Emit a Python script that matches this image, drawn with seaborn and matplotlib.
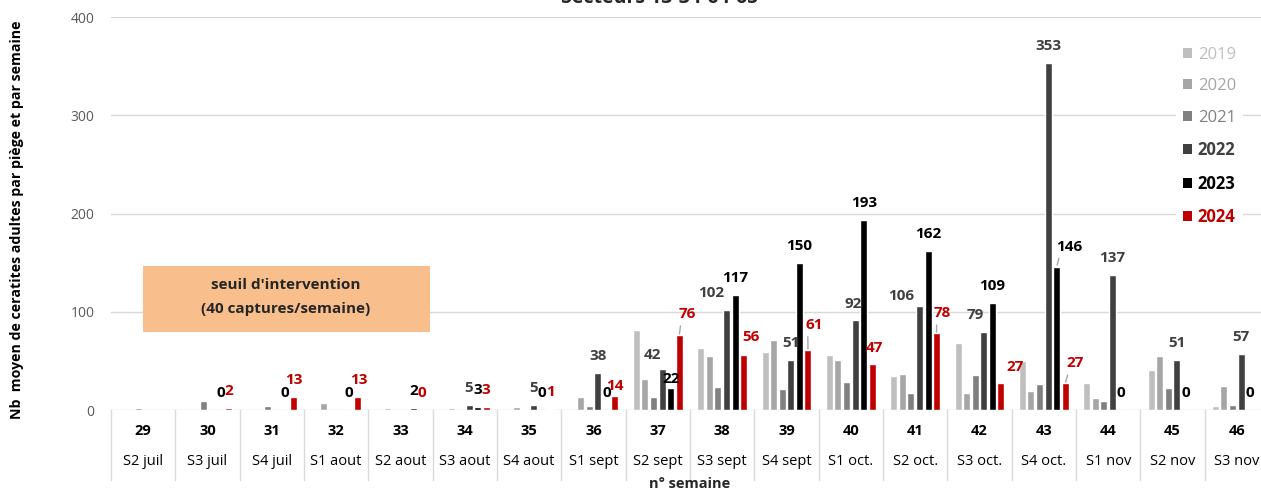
import numpy as np
import pandas as pd
import matplotlib
matplotlib.use("Agg")
import matplotlib.pyplot as plt
import matplotlib.transforms as mtransforms
from matplotlib.patches import Patch, Rectangle
import seaborn as sns

# ---- data -------------------------------------------------------------
nan = np.nan
semaines = [29, 30, 31, 32, 33, 34, 35, 36, 37, 38, 39, 40, 41, 42, 43, 44, 45, 46]
periodes = ["S2 juil", "S3 juil", "S4 juil", "S1 aout", "S2 aout", "S3 aout",
            "S4 aout", "S1 sept", "S2 sept", "S3 sept", "S4 sept", "S1 oct.",
            "S2 oct.", "S3 oct.", "S4 oct.", "S1 nov", "S2 nov", "S3 nov"]
annees = ["2019", "2020", "2021", "2022", "2023", "2024"]

v2019 = [nan, nan, nan, nan, nan, nan, nan, nan, 81, 63, 59, 56, 35, 68, 50, 27, 41, 4]
v2020 = [nan, nan, nan, 7, 2.5, 2, 3, 13, 32, 55, 71, 51, 37, 17, 19, 12, 55, 24]
v2021 = [2.5, 9, 4, nan, nan, nan, 1, 4, 13, 23, 21, 29, 17, 36, 26, 9, 22, 5]
v2022 = [nan, nan, nan, nan, nan, 5, 5, 38, 42, 102, 51, 92, 106, 79, 353, 137, 51, 57]
v2023 = [nan, 0, 0, 0, 2, 3, 0, 0, 22, 117, 150, 193, 162, 109, 146, 0, 0, 0]
v2024 = [nan, 2, 13, 13, 0, 3, 1, 14, 76, 56, 61, 47, 78, 27, 27, nan, nan, nan]
series = {"2019": v2019, "2020": v2020, "2021": v2021,
          "2022": v2022, "2023": v2023, "2024": v2024}

titre = "Secteurs 13-34-64-65"
ylabel = "Nb  moyen de ceratites adultes par piège et par semaine"
xlabel = "n° semaine"
seuil_lignes = ["seuil d'intervention", "(40 captures/semaine)"]

# ---- style ------------------------------------------------------------
couleurs = {"2019": "#BFBFBF", "2020": "#A6A6A6", "2021": "#808080",
            "2022": "#404040", "2023": "#000000", "2024": "#C00000"}
couleurs_etiq = {"2022": "#404040", "2023": "#000000", "2024": "#C00000"}
grille = "#D9D9D9"

# label offsets in pixels (dx, dy above bar top) and leader-line flags
decal = {
    ("2022", 37): (-10, 14), ("2022", 38): (-15, 17), ("2022", 40): (-2, 16),
    ("2022", 41): (-18, 10), ("2022", 42): (-9, 17),
    ("2023", 37): (0, 9), ("2023", 43): (13, 20),
    ("2024", 31): (1, 17), ("2024", 32): (1, 17),
    ("2024", 36): (0, 10), ("2024", 37): (8, 21), ("2024", 38): (7, 18),
    ("2024", 39): (6, 25), ("2024", 40): (2, 16), ("2024", 41): (6, 20),
    ("2024", 42): (14, 16), ("2024", 43): (10, 20),
}
avec_trait = {("2023", 43), ("2024", 37), ("2024", 39), ("2024", 41), ("2024", 43)}

sns.set_theme(style="white")
plt.rcParams["font.family"] = ["Open Sans", "DejaVu Sans"]

rows = []
for a in annees:
    for s, v in zip(semaines, series[a]):
        if not np.isnan(v):
            rows.append({"semaine": str(s), "annee": a, "valeur": v})
df = pd.DataFrame(rows)

W, H = 1261, 490
fig = plt.figure(figsize=(W / 100, H / 100), dpi=100)
ax = fig.add_axes([111 / W, 80 / H, 1158 / W, 393 / H])

sns.barplot(data=df, x="semaine", y="valeur", hue="annee",
            order=[str(s) for s in semaines], hue_order=annees,
            palette=couleurs, width=0.8, gap=0.18, saturation=1,
            errorbar=None, legend=False, ax=ax)

ax.set_xlim(-0.5, len(semaines) - 0.5)
ax.set_ylim(0, 400)
ax.set_yticks([0, 100, 200, 300, 400])
ax.yaxis.grid(True, color=grille, lw=1)
ax.set_axisbelow(True)
for sp in ax.spines.values():
    sp.set_visible(False)
ax.tick_params(axis="y", length=0, labelsize=10, labelcolor="#595959", pad=12)
ax.set_xticks([])
ax.set_xlabel("")
ax.set_ylabel("")

# ---- table under the x axis --------------------------------------------
trans = mtransforms.blended_transform_factory(ax.transData, ax.transAxes)
for b in np.arange(-0.5, len(semaines), 1.0):
    ax.plot([b, b], [0, -0.178], transform=trans, color=grille, lw=1,
            clip_on=False)
for i, (s, p) in enumerate(zip(semaines, periodes)):
    ax.text(i, -0.054, str(s), transform=trans, ha="center", va="center",
            fontsize=10.5, fontweight="bold", color="#000000")
    ax.text(i, -0.132, p, transform=trans, ha="center", va="center",
            fontsize=10.5, color="#000000")
fig.text(690 / W, 1 - 484 / H, xlabel, ha="center", va="center",
         fontsize=10.5, fontweight="bold")
fig.text(17 / W, 1 - 220 / H, ylabel, rotation=90, ha="center", va="center",
         fontsize=10.2, fontweight="bold", color="#000000")
fig.text(660 / W, 1 - 3 / H, titre, ha="center", va="baseline",
         fontsize=14, fontweight="bold")

# ---- value labels -----------------------------------------------------
slot = 0.8 / len(annees)
for k, a in enumerate(annees):
    if a not in couleurs_etiq:
        continue
    for i, (s, v) in enumerate(zip(semaines, series[a])):
        if np.isnan(v):
            continue
        if a == "2022" and s < 34:
            continue
        x = i + (k - (len(annees) - 1) / 2) * slot
        dx, dy = decal.get((a, s), (0, 17))
        txt = f"{v:g}"
        kw = {}
        if (a, s) in avec_trait:
            kw["arrowprops"] = dict(arrowstyle="-", color="#A6A6A6", lw=1,
                                    shrinkA=1, shrinkB=1, relpos=(0.15, 0.1))
        ax.annotate(txt, xy=(x, v), xytext=(dx, dy), textcoords="offset pixels",
                    ha="center", va="center", fontsize=11, fontweight="bold",
                    color=couleurs_etiq[a], zorder=5, **kw)

# ---- threshold note ---------------------------------------------------
ax.add_patch(Rectangle(((143 - 111) / 1158, (410 - 332) / 393),
                       (430 - 143) / 1158, (332 - 266) / 393,
                       transform=ax.transAxes, facecolor="#F8BF8C",
                       edgecolor="none", zorder=4))
fig.text(286 / W, 1 - 285 / H, seuil_lignes[0], ha="center", va="center",
         fontsize=11, fontweight="bold")
fig.text(286 / W, 1 - 309 / H, seuil_lignes[1], ha="center", va="center",
         fontsize=11, fontweight="bold")

# ---- legend -----------------------------------------------------------
handles = [Patch(facecolor=couleurs[a], edgecolor="none", label=a) for a in annees]
leg = ax.legend(handles=handles, loc="upper left",
                bbox_to_anchor=(1176 / W, 1 - 40 / H), bbox_transform=fig.transFigure,
                frameon=True, facecolor="white", edgecolor="none", framealpha=1,
                fancybox=False, fontsize=12, handlelength=0.55, handleheight=0.55,
                handletextpad=0.35, labelspacing=0.93, borderpad=0.4,
                borderaxespad=0)
for t, a in zip(leg.get_texts(), annees):
    t.set_color(couleurs[a] if a in ("2019", "2020", "2021") else couleurs_etiq[a])
    if a in ("2022", "2023", "2024"):
        t.set_fontweight("bold")

fig.savefig("out.png", dpi=100)
